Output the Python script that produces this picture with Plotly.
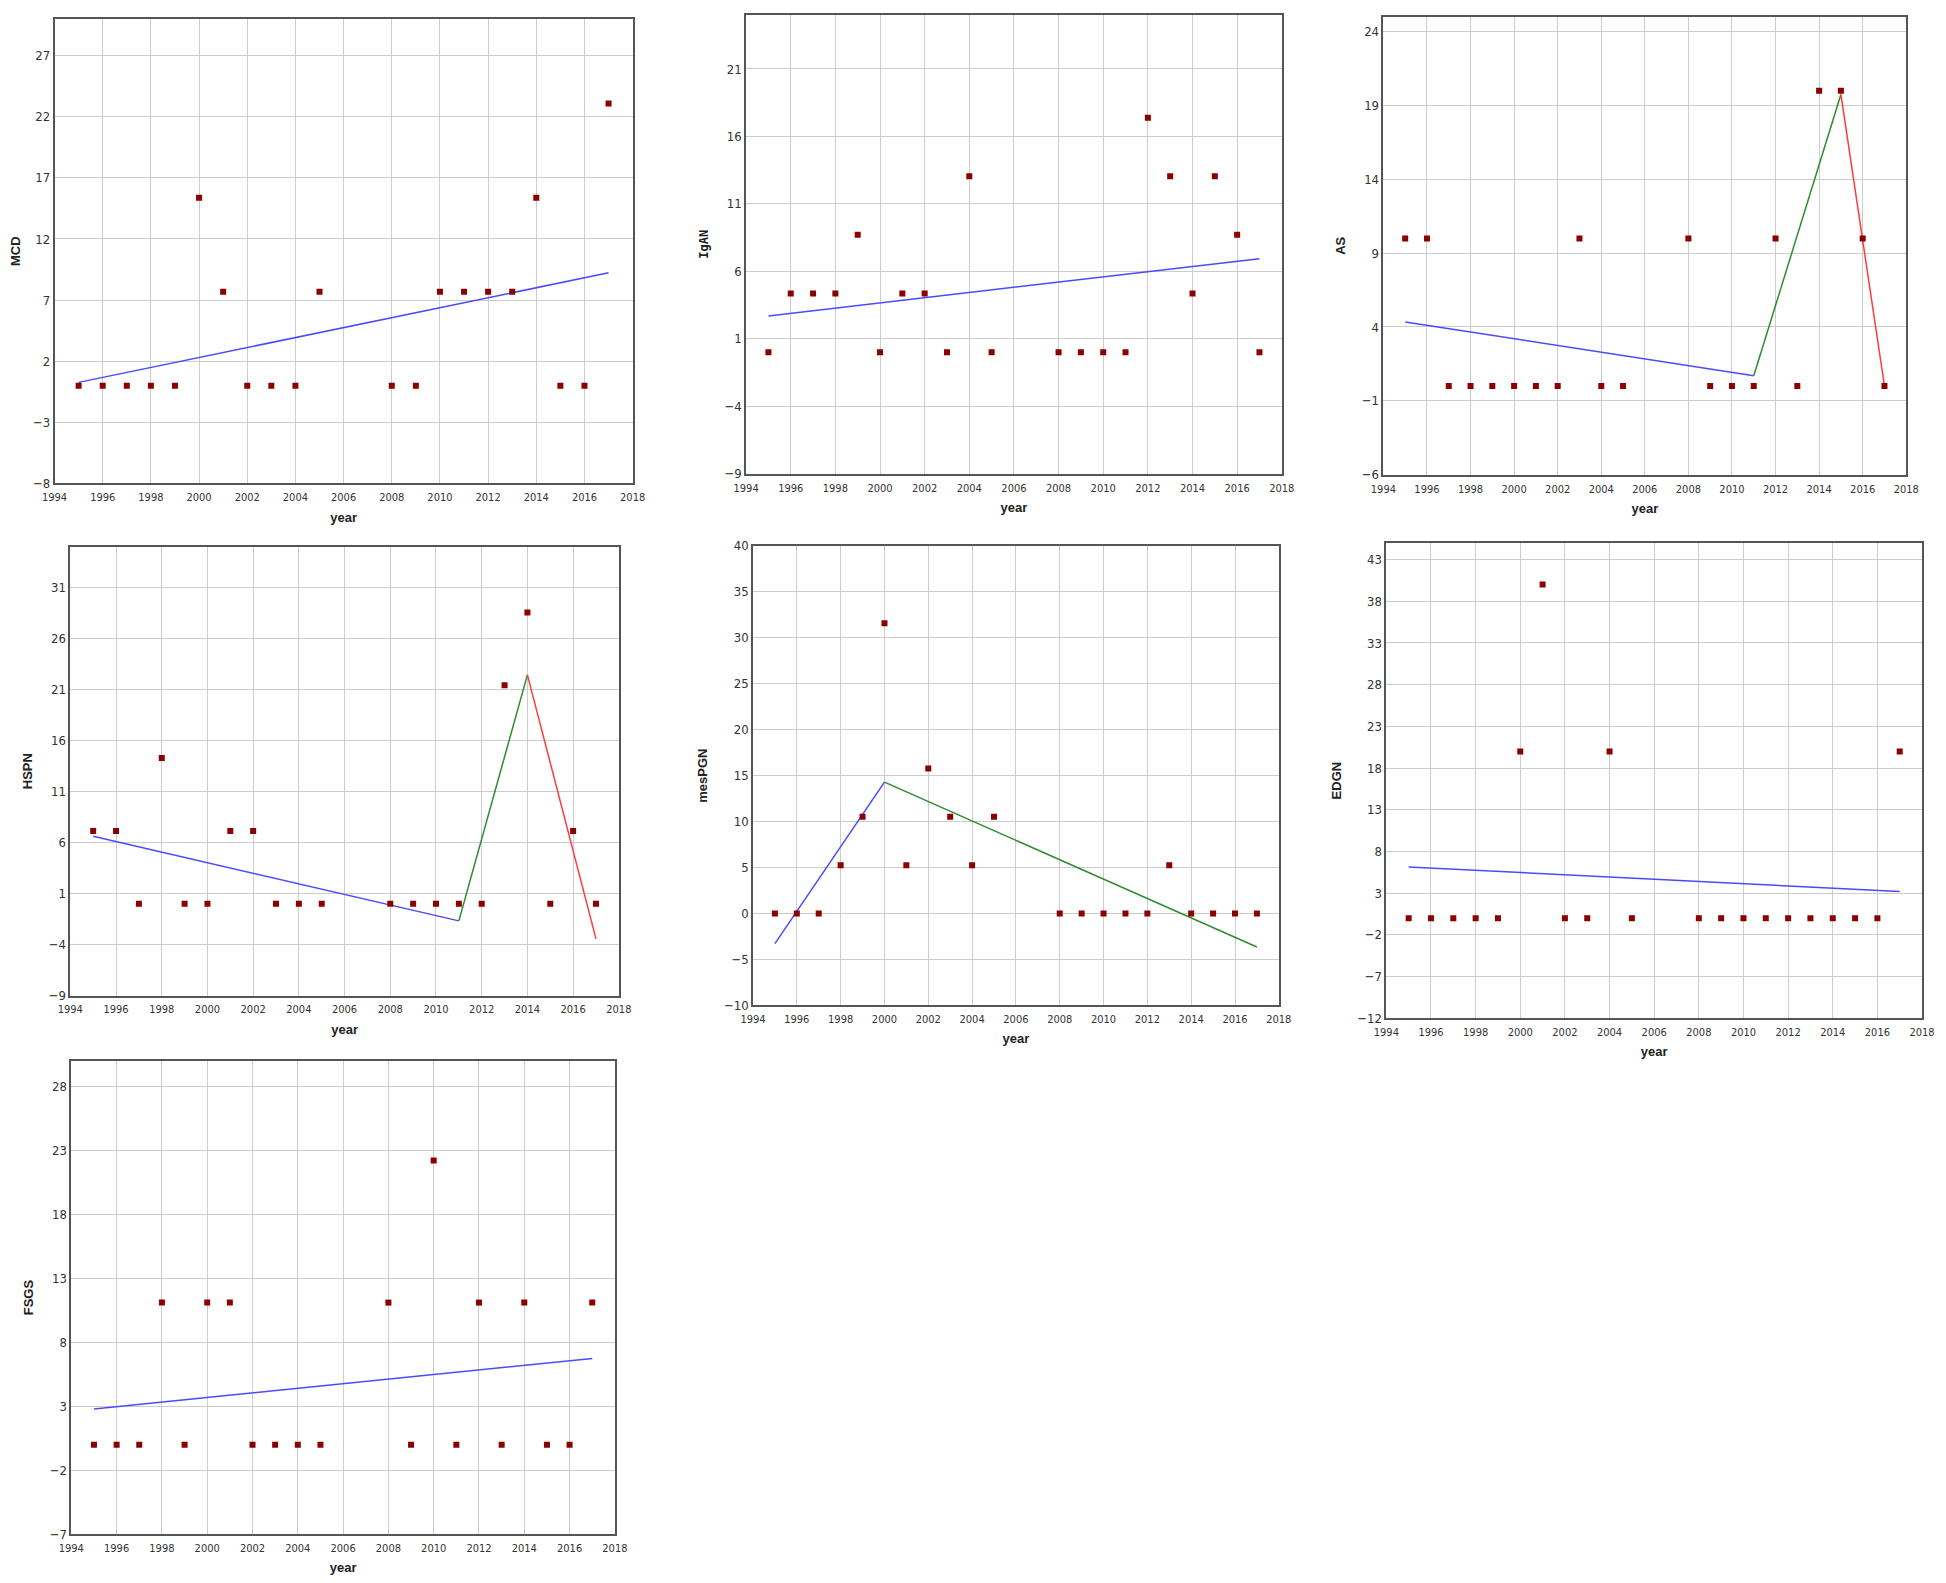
import plotly.graph_objects as go

# page body keeps an 8px margin, so the figure is sized to fit the window inside it
PAGE_MARGIN = 8
W, H = 1946 - 2 * PAGE_MARGIN, 1583 - 2 * PAGE_MARGIN

years = [1995, 1996, 1997, 1998, 1999, 2000, 2001, 2002, 2003, 2004, 2005,
         2008, 2009, 2010, 2011, 2012, 2013, 2014, 2015, 2016, 2017]

mcd = [0, 0, 0, 0, 0, 15.38, 7.69, 0, 0, 0, 7.69,
       0, 0, 7.69, 7.69, 7.69, 7.69, 15.38, 0, 0, 23.08]
igan = [0, 4.35, 4.35, 4.35, 8.70, 0, 4.35, 4.35, 0, 13.04, 0,
        0, 0, 0, 0, 17.39, 13.04, 4.35, 13.04, 8.70, 0]
as_ = [10, 10, 0, 0, 0, 0, 0, 0, 10, 0, 0,
       10, 0, 0, 0, 10, 0, 20, 20, 10, 0]
hspn = [7.14, 7.14, 0, 14.29, 0, 0, 7.14, 7.14, 0, 0, 0,
        0, 0, 0, 0, 0, 21.43, 28.57, 0, 7.14, 0]
mespgn = [0, 0, 0, 5.26, 10.53, 31.58, 5.26, 15.79, 10.53, 5.26, 10.53,
          0, 0, 0, 0, 0, 5.26, 0, 0, 0, 0]
edgn = [0, 0, 0, 0, 0, 20, 40, 0, 0, 20, 0,
        0, 0, 0, 0, 0, 0, 0, 0, 0, 20]
fsgs = [0, 0, 0, 11.11, 0, 11.11, 11.11, 0, 0, 0, 0,
        11.11, 0, 22.22, 0, 11.11, 0, 11.11, 0, 0, 11.11]

# trend segments: (x list, y list, colour key)
mcd_trend = [([1995, 2017], [0.27, 9.23], "blue")]
igan_trend = [([1995, 2017], [2.69, 6.93], "blue")]
as_trend = [([1995, 2011], [4.34, 0.70], "blue"),
            ([2011, 2015], [0.70, 19.75], "green"),
            ([2015, 2017], [19.75, 0.0], "red")]
hspn_trend = [([1995, 2011], [6.61, -1.68], "blue"),
              ([2011, 2014], [-1.68, 22.45], "green"),
              ([2014, 2017], [22.45, -3.45], "red")]
mespgn_trend = [([1995, 2000], [-3.27, 14.29], "blue"),
                ([2000, 2017], [14.29, -3.64], "green")]
edgn_trend = [([1995, 2017], [6.15, 3.2], "blue")]
fsgs_trend = [([1995, 2017], [2.79, 6.74], "blue")]

y_titles = ["MCD", "IgAN", "AS", "HSPN", "mesPGN", "EDGN", "FSGS"]
y_ranges = [[-8, 30], [-9, 25], [-6, 25], [-9, 35], [-10, 40], [-12, 45], [-7, 30]]
y_tick0 = [-8, -9, -6, -9, -10, -12, -7]

# plot-area boxes in window pixels: x0, x1, y0 (top), y1 (bottom)
boxes = [(42, 628, 12, 481), (743, 1286, 2, 471), (1389, 1919, 10, 472),
         (58, 614, 545, 998), (750, 1283, 544, 1008), (1392, 1935, 541, 1021),
         (59, 610, 1064, 1542)]

series = [mcd, igan, as_, hspn, mespgn, edgn, fsgs]
trends = [mcd_trend, igan_trend, as_trend, hspn_trend, mespgn_trend, edgn_trend, fsgs_trend]

colors = {"blue": "#4a4aff", "green": "#2e8b2e", "red": "#ff3b3b"}

narrow = "Liberation Sans Narrow, Arial Narrow, DejaVu Sans Condensed, sans-serif"
xtick_font = dict(family=narrow, size=11, color="#333333")
ytick_font = dict(family=narrow, size=13, color="#333333")
title_font = dict(family="Liberation Sans, Arial, sans-serif", size=13, color="#222222")
igan_font = dict(family="DejaVu Sans Mono, monospace", size=12, color="#222222")

fig = go.Figure()
layout = dict(width=W, height=H, margin=dict(l=0, r=0, t=0, b=0),
              paper_bgcolor="white", plot_bgcolor="white", showlegend=False)

for i in range(7):
    n = i + 1
    xa = "x" if n == 1 else f"x{n}"
    ya = "y" if n == 1 else f"y{n}"
    for (tx, ty, c) in trends[i]:
        fig.add_trace(go.Scatter(x=tx, y=ty, mode="lines", xaxis=xa, yaxis=ya,
                                 line=dict(color=colors[c], width=1.5), hoverinfo="skip"))
    fig.add_trace(go.Scatter(x=years, y=series[i], mode="markers", xaxis=xa, yaxis=ya,
                             marker=dict(symbol="square", size=6, color="#8b0000",
                                         line=dict(width=0))))
    x0, x1, y0, y1 = boxes[i]
    x0 -= PAGE_MARGIN; x1 -= PAGE_MARGIN; y0 -= PAGE_MARGIN; y1 -= PAGE_MARGIN
    xd = [max(0, x0 / W), min(1, x1 / W)]
    yd = [max(0, 1 - y1 / H), min(1, 1 - y0 / H)]
    layout[f"xaxis{'' if n == 1 else n}"] = dict(
        domain=xd, anchor=ya, range=[1994, 2018], tick0=1994, dtick=2,
        showgrid=True, gridcolor="#cccccc", gridwidth=1, zeroline=False,
        showline=True, linecolor="#555555", linewidth=1.5, mirror=True,
        ticks="", tickfont=xtick_font, ticklabelstandoff=3,
        title=dict(text="<b>year</b>", font=title_font, standoff=9))
    layout[f"yaxis{'' if n == 1 else n}"] = dict(
        domain=yd, anchor=xa, range=y_ranges[i], tick0=y_tick0[i], dtick=5,
        showgrid=True, gridcolor="#cccccc", gridwidth=1, zeroline=False,
        showline=True, linecolor="#555555", linewidth=1.5, mirror=True,
        ticks="", tickfont=ytick_font,
        title=dict(text=f"<b>{y_titles[i]}</b>",
                   font=igan_font if y_titles[i] == "IgAN" else title_font, standoff=13))

fig.update_layout(**layout)
fig.write_html("out.html")
